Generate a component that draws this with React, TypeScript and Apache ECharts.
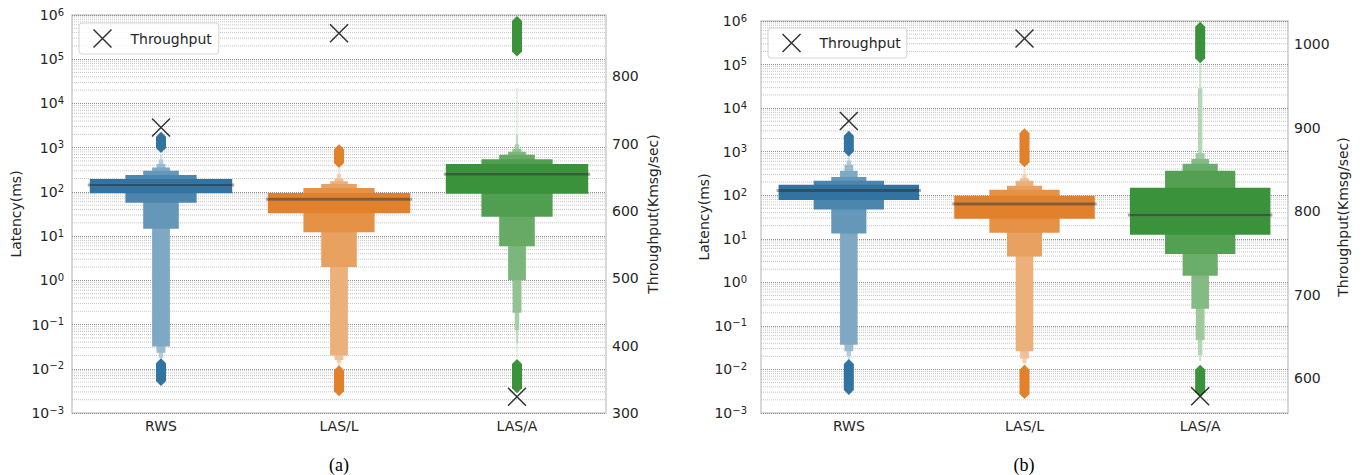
import React, { useEffect, useRef } from 'react';
import * as echarts from 'echarts';

// ---------- data ----------
const categories = ['RWS', 'LAS/L', 'LAS/A'];
const latencyRange = [0.001, 1000000];
const throughputRangeA = [300, 891];
const throughputRangeB = [558, 1028];
const throughputTicksA = [300, 400, 500, 600, 700, 800];
const throughputTicksB = [600, 700, 800, 900, 1000];

// letter-value boxes, widest level first: [low, high] (ms)
const boxesA_RWS = [[93, 195], [57, 240], [14.6, 300], [0.032, 355], [0.023, 427], [0.0177, 543], [0.0158, 676]];
const boxesA_LASL = [[33, 94], [12.3, 122], [2.0, 151], [0.02, 175], [0.0158, 200], [0.0135, 251], [0.0112, 347]];
const boxesA_LASA = [[91, 427], [27.4, 550], [5.9, 692], [1.0, 807], [0.184, 944], [0.074, 1200], [0.038, 1950], [0.0174, 22400]];
const boxesB_RWS = [[78, 174], [47, 214], [13.2, 263], [0.037, 363], [0.026, 501], [0.02, 631], [0.0166, 776]];
const boxesB_LASL = [[29, 97], [13.8, 133], [3.9, 164], [0.026, 214], [0.0178, 245], [0.0141, 309], [0.0117, 417]];
const boxesB_LASA = [[12.4, 148], [4.5, 363], [1.41, 525], [0.248, 676], [0.047, 925], [0.021, 28600], [0.0155, 107000]];

const mediansA = [143, 68, 250];
const mediansB = [128, 62.5, 35];

// outlier ranges [low, high]
const outliersA_upper = [[760, 2290], [347, 1200], [115000, 955000]];
const outliersA_lower = [[0.0041, 0.0174], [0.0024, 0.012], [0.0028, 0.0166]];
const outliersB_upper = [[776, 3020], [437, 3470], [107000, 955000]];
const outliersB_lower = [[0.0026, 0.0174], [0.0021, 0.0129], [0.0024, 0.0129]];

// throughput (Kmsg/sec)
const throughputA = [724, 864, 324];
const throughputB = [908, 1007, 578];

// ---------- styles ----------
const FONT = 'DejaVu Sans';
const TXT = '#262626';
const BASE = ['#3274a1', '#e1812c', '#3a923a'];
const MEDIAN = ['#2c4f6b', '#8f5829', '#2e622f'];
const XPATH = 'path://M0 0L10 10M10 0L0 10';

// minor gridline positions of the log axis (2..9 x 10^k)
const minorGrid: number[] = [];
for (let k = -3; k <= 5; k++) for (let m = 2; m <= 9; m++) minorGrid.push(m * Math.pow(10, k));

function lighten(hex: string, t: number) {
  const n = parseInt(hex.slice(1), 16);
  const r = (n >> 16) & 255, g = (n >> 8) & 255, b = n & 255;
  const f = (c: number) => Math.round(c + (255 - c) * t);
  return `rgb(${f(r)},${f(g)},${f(b)})`;
}

function boxData(groups: number[][][]) {
  const out: number[][] = [];
  groups.forEach((levels, c) => {
    const n = levels.length;
    for (let i = n - 1; i >= 0; i--) out.push([c, levels[i][0], levels[i][1], i, n]);
  });
  return out;
}

const renderBox = (params: any, api: any) => {
  const c = api.value(0), lo = api.value(1), hi = api.value(2), lvl = api.value(3), n = api.value(4);
  const pt = api.coord([c, hi]);
  const pb = api.coord([c, lo]);
  const band = api.size([1, 0], [c, 1])[0];
  const w = (band * 0.8) / Math.pow(2, lvl);
  return {
    type: 'rect',
    shape: { x: pt[0] - w / 2, y: pt[1], width: w, height: pb[1] - pt[1] },
    style: { fill: lighten(BASE[c], lvl / (n + 1)) },
  };
};

const renderMedian = (params: any, api: any) => {
  const c = api.value(0), m = api.value(1);
  const p = api.coord([c, m]);
  const band = api.size([1, 0], [c, 1])[0];
  const hw = band * 0.4;
  return {
    type: 'group',
    children: [
      { type: 'line', shape: { x1: p[0] - hw - 2, y1: p[1], x2: p[0] + hw + 2, y2: p[1] }, style: { stroke: '#a8a8a8', lineWidth: 3 } },
      { type: 'line', shape: { x1: p[0] - hw, y1: p[1], x2: p[0] + hw, y2: p[1] }, style: { stroke: MEDIAN[c], lineWidth: 3 } },
    ],
  };
};

const renderOutlier = (params: any, api: any) => {
  const c = api.value(0), lo = api.value(1), hi = api.value(2);
  const t = api.coord([c, hi]);
  const b = api.coord([c, lo]);
  const x = t[0];
  const hw = 5;
  const tip = Math.min(5, (b[1] - t[1]) / 2);
  return {
    type: 'polygon',
    shape: { points: [[x, t[1]], [x + hw, t[1] + tip], [x + hw, b[1] - tip], [x, b[1]], [x - hw, b[1] - tip], [x - hw, t[1] + tip]] },
    style: { fill: BASE[c] },
  };
};

const renderMinor = (params: any, api: any) => {
  const y = api.coord([0, api.value(1)])[1];
  const cs = params.coordSys;
  return {
    type: 'line',
    shape: { x1: cs.x, y1: y, x2: cs.x + cs.width, y2: y },
    style: { stroke: '#c4c4c4', lineWidth: 1, lineDash: [1, 1] },
  };
};

function supLabel(v: number) {
  const e = Math.round(Math.log10(v));
  return '{b|10}{s|' + (e < 0 ? '\u2212' + -e : String(e)) + '}';
}

function panel(i: number, boxes: number[][][], medians: number[], upper: number[][], lower: number[][], thr: number[],
  tRange: number[], tTicks: number[], leftMargin: number, leftGap: number, rightGap: number) {
  const yL = i * 2, yR = i * 2 + 1;
  const xAxis = {
    gridIndex: i, type: 'category', data: categories,
    axisLine: { show: false }, axisTick: { show: false }, splitLine: { show: false },
    axisLabel: { fontFamily: FONT, fontSize: 14, color: TXT, margin: 6 },
  };
  const yLeft = {
    gridIndex: i, type: 'log', logBase: 10, min: latencyRange[0], max: latencyRange[1], splitNumber: 9,
    name: 'Latency(ms)', nameLocation: 'middle', nameGap: leftGap, nameRotate: 90,
    nameTextStyle: { fontFamily: FONT, fontSize: 14, color: TXT },
    axisLine: { show: false }, axisTick: { show: false },
    axisLabel: {
      margin: leftMargin, formatter: supLabel,
      rich: {
        b: { fontFamily: FONT, fontSize: 14, color: TXT, lineHeight: 16 },
        s: { fontFamily: FONT, fontSize: 10, color: TXT, lineHeight: 10, verticalAlign: 'top' },
      },
    },
    splitLine: { show: true, lineStyle: { type: 'dotted', color: '#8f8f8f', width: 1 } },
  };
  const yRight = {
    gridIndex: i, type: 'value', position: 'right', min: tRange[0], max: tRange[1],
    name: 'Throughput(Kmsg/sec)', nameLocation: 'middle', nameGap: rightGap, nameRotate: 90,
    nameTextStyle: { fontFamily: FONT, fontSize: 14, color: TXT },
    axisLine: { show: false }, axisTick: { show: false }, splitLine: { show: false },
    axisLabel: { customValues: tTicks, formatter: (v: number) => String(v), fontFamily: FONT, fontSize: 14, color: TXT, margin: 6 },
  };
  const series = [
    { type: 'custom', name: 'grid' + i, xAxisIndex: i, yAxisIndex: yL, silent: true, z: 1, renderItem: renderMinor,
      data: minorGrid.map((v) => [0, v]) },
    { type: 'custom', name: 'boxes' + i, xAxisIndex: i, yAxisIndex: yL, silent: true, z: 2, renderItem: renderBox,
      data: boxData(boxes) },
    { type: 'custom', name: 'outliers' + i, xAxisIndex: i, yAxisIndex: yL, silent: true, z: 2, renderItem: renderOutlier,
      data: [...upper.map((r, c) => [c, r[0], r[1]]), ...lower.map((r, c) => [c, r[0], r[1]])] },
    { type: 'custom', name: 'median' + i, xAxisIndex: i, yAxisIndex: yL, silent: true, z: 3, renderItem: renderMedian,
      data: medians.map((m, c) => [c, m]) },
    { type: 'scatter', name: 'Throughput', xAxisIndex: i, yAxisIndex: yR, z: 5, symbol: XPATH, symbolSize: 18,
      itemStyle: { color: 'none', borderColor: '#000', borderWidth: 1.5 },
      data: thr.map((v, c) => [c, v]) },
  ];
  return { xAxis, yAxes: [yLeft, yRight], series };
}

const pA = panel(0, [boxesA_RWS, boxesA_LASL, boxesA_LASA], mediansA, outliersA_upper, outliersA_lower, throughputA,
  throughputRangeA, throughputTicksA, 8, 49, 40);
const pB = panel(1, [boxesB_RWS, boxesB_LASL, boxesB_LASA], mediansB, outliersB_upper, outliersB_lower, throughputB,
  throughputRangeB, throughputTicksB, 14, 49, 48);

const legendBase = {
  data: ['Throughput'], icon: XPATH, itemWidth: 18, itemHeight: 18, selectedMode: false,
  backgroundColor: 'rgba(255,255,255,0.85)', borderColor: '#d4d4d4', borderWidth: 1, borderRadius: 3,
  textStyle: { fontFamily: FONT, fontSize: 14, color: TXT, padding: [0, 0, 0, 14] },
  itemStyle: { color: 'none', borderColor: '#000', borderWidth: 1.5 },
};

const option = {
  animation: false,
  backgroundColor: '#ffffff',
  grid: [
    { left: 72, top: 15, width: 534, height: 398, show: true, borderColor: '#cccccc', borderWidth: 1.5, backgroundColor: '#fff' },
    { left: 761, top: 21, width: 527, height: 392, show: true, borderColor: '#cccccc', borderWidth: 1.5, backgroundColor: '#fff' },
  ],
  legend: [
    { ...legendBase, left: 79, top: 23, padding: [4, 7, 4, 12] },
    { ...legendBase, left: 768, top: 28, padding: [3.5, 6, 3.5, 12] },
  ],
  xAxis: [pA.xAxis, pB.xAxis],
  yAxis: [...pA.yAxes, ...pB.yAxes],
  series: [...pA.series, ...pB.series],
  graphic: [
    { type: 'text', x: 339, y: 465, style: { text: '(a)', fontFamily: 'Liberation Serif', fontSize: 18, fill: '#000', align: 'center', verticalAlign: 'middle' } },
    { type: 'text', x: 1024, y: 465, style: { text: '(b)', fontFamily: 'Liberation Serif', fontSize: 18, fill: '#000', align: 'center', verticalAlign: 'middle' } },
  ],
};

export default function App() {
  const ref = useRef<HTMLDivElement>(null);
  useEffect(() => {
    const chart = echarts.init(ref.current as HTMLDivElement, undefined, { renderer: 'svg' });
    chart.setOption(option as any);
    return () => chart.dispose();
  }, []);
  return <div ref={ref} style={{ position: 'absolute', left: 0, top: 0, width: 1367, height: 475 }} />;
}
